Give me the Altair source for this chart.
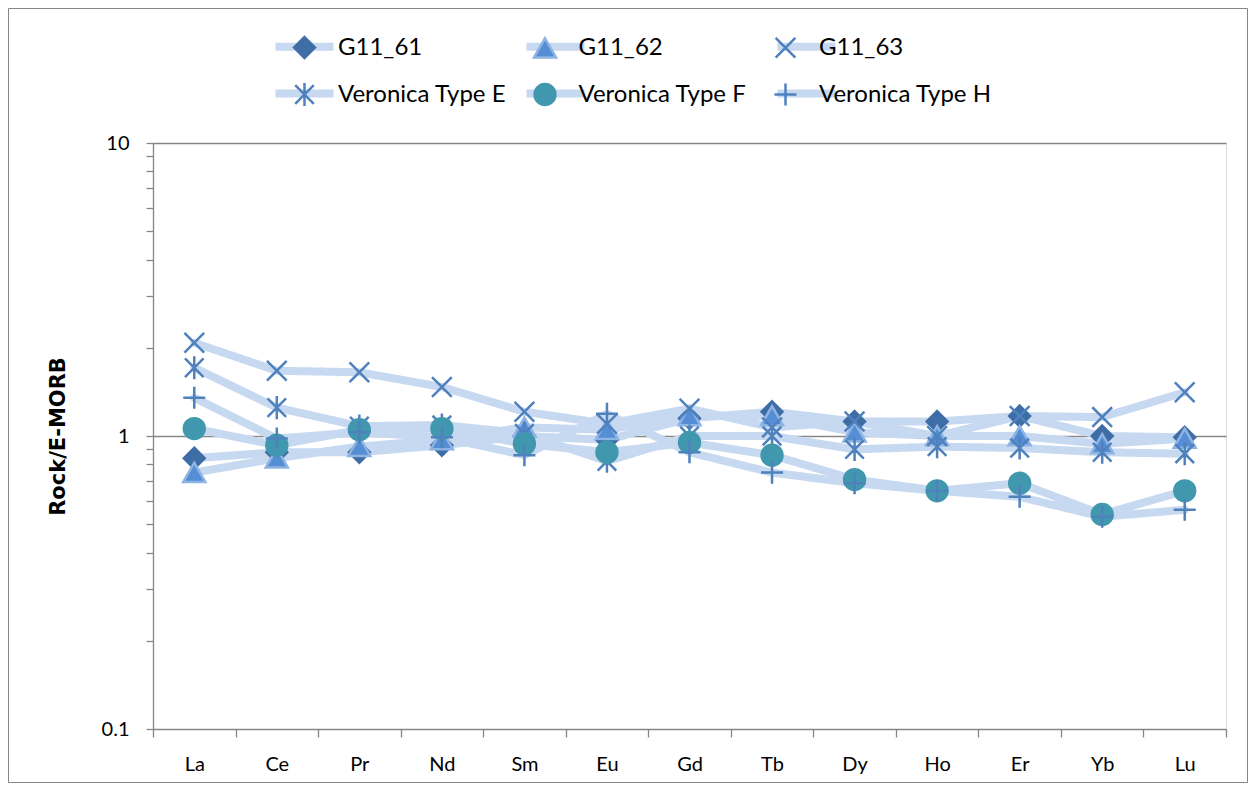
import altair as alt
import pandas as pd

elements = ["La", "Ce", "Pr", "Nd", "Sm", "Eu", "Gd", "Tb", "Dy", "Ho", "Er", "Yb", "Lu"]
series = ["G11_61", "G11_62", "G11_63", "Veronica Type E", "Veronica Type F", "Veronica Type H"]

g11_61 = [0.84, 0.88, 0.88, 0.93, 1.00, 0.97, 1.15, 1.21, 1.12, 1.12, 1.17, 1.00, 0.99]
g11_62 = [0.75, 0.84, 0.92, 0.97, 1.07, 1.05, 1.17, 1.17, 1.03, 1.00, 1.00, 0.94, 0.98]
g11_63 = [2.08, 1.67, 1.65, 1.47, 1.21, 1.10, 1.24, 1.07, 1.12, 1.00, 1.17, 1.16, 1.41]
ver_e = [1.71, 1.25, 1.08, 1.09, 1.02, 0.82, 1.00, 1.00, 0.90, 0.92, 0.91, 0.88, 0.87]
ver_f = [1.06, 0.93, 1.05, 1.06, 0.94, 0.88, 0.95, 0.86, 0.71, 0.65, 0.69, 0.54, 0.65]
ver_h = [1.35, 0.98, 1.03, 0.99, 0.86, 1.19, 0.88, 0.75, 0.69, 0.65, 0.62, 0.53, 0.56]

y_tick_values = [0.1, 0.2, 0.3, 0.4, 0.5, 0.6, 0.7, 0.8, 0.9,
                 1, 2, 3, 4, 5, 6, 7, 8, 9, 10]

# line-legend keys: same names with a trailing space so the two legends stay separate
series_l = [s + " " for s in series]

all_vals = [g11_61, g11_62, g11_63, ver_e, ver_f, ver_h]
rows = []
for s, sl, vals in zip(series, series_l, all_vals):
    for e, v in zip(elements, vals):
        rows.append({"element": e, "series": s, "series_l": sl, "value": v})
df = pd.DataFrame(rows)

FONT = "Lato"
W, H = 1073, 586
SYM_M = 3364      # marker box 58 px  (sqrt + stroke 2.5 -> 61)
SYM_L = 2756.25   # line box 52.5 px  (sqrt + stroke 8   -> 61)

EXT_M = "M-1.19,0M1.19,0"  # invisible extents: same left bound as the legend line
diamond = EXT_M + "M0,-0.36L0.36,0L0,0.36L-0.36,0Z"
triangle = EXT_M + "M0,-0.34L0.38,0.32L-0.38,0.32Z"
xshape = EXT_M + "M-0.34,-0.34L0.34,0.34M-0.34,0.34L0.34,-0.34"
aster = EXT_M + "M-0.32,-0.32L0.32,0.32M-0.32,0.32L0.32,-0.32M0,-0.4L0,0.4"
circle = EXT_M + "M0.36,0A0.36,0.36 0 1,1 -0.36,0A0.36,0.36 0 1,1 0.36,0Z"
plus = EXT_M + "M-0.38,0L0.38,0M0,-0.38L0,0.38"
line_sym = "M-1.105,0L1.105,0"
shapes = [diamond, triangle, xshape, aster, circle, plus]
fills = ["#3F6DA6", "#558ED5", "transparent", "transparent", "#4198AE", "transparent"]
strokes = ["#3F6DA6", "#8EB4E3", "#4F81BD", "#4F81BD", "#4198AE", "#4F81BD"]

x_enc = alt.X(
    "element:N",
    sort=elements,
    scale=alt.Scale(type="band", domain=elements, paddingInner=0, paddingOuter=0),
    axis=alt.Axis(
        title=None, labelAngle=0, tickBand="extent", grid=False,
        domainColor="#868686", domainWidth=1.3, tickColor="#868686", tickWidth=1.3,
        tickSize=8, labelPadding=17, labelFont=FONT, labelFontSize=20, labelColor="#000000",
    ),
)
y_enc = alt.Y(
    "value:Q",
    scale=alt.Scale(type="log", domain=[0.1, 10], nice=False),
    axis=alt.Axis(
        title="Rock/E-MORB", titleFont="DejaVu Sans", titleFontSize=21, titleFontWeight="bold",
        titleColor="#000000", titlePadding=33,
        values=y_tick_values,
        labelExpr="datum.value == 10 ? '10' : datum.value == 1 ? '1' : datum.value == 0.1 ? '0.1' : ''",
        labelFont=FONT, labelFontSize=20, labelColor="#000000", labelPadding=17,
        tickSize=7, tickColor="#868686", tickWidth=1.3,
        domainColor="#868686", domainWidth=1.3,
        grid=True,
        gridColor={"condition": {"test": "datum.value == 1 || datum.value == 10", "value": "#868686"},
                   "value": "transparent"},
        gridWidth=1.6,
    ),
)

legend_common = dict(
    orient="none", direction="horizontal", legendX=121, legendY=-127, columns=3, title=None,
    labelFont=FONT, labelFontSize=24, labelOffset=3, labelLimit=400,
    rowPadding=-9, padding=0, gridAlign="all",
)

# line segments of the legend (no text of their own)
lines = alt.Chart(df).mark_line(color="#C6D9F1", strokeWidth=8, strokeJoin="round", strokeCap="round").encode(
    x=x_enc,
    y=y_enc,
    detail="series:N",
    strokeDash=alt.StrokeDash(
        "series_l:N",
        scale=alt.Scale(domain=series_l, range=[[1, 0]] * 6),
        legend=alt.Legend(symbolType=line_sym, symbolSize=SYM_L, symbolStrokeColor="#C6D9F1",
                          symbolStrokeWidth=8, labelExpr="''", columnPadding=160,
                          **legend_common),
    ),
)

points = alt.Chart(df).mark_point(filled=False, opacity=1, size=SYM_M, strokeWidth=2.5).encode(
    x=x_enc,
    y=y_enc,
    shape=alt.Shape("series:N", scale=alt.Scale(domain=series, range=shapes),
                    legend=alt.Legend(symbolSize=SYM_M, symbolStrokeWidth=2.5, columnPadding=-6.5,
                                      labelColor="#000000", **legend_common)),
    fill=alt.Fill("series:N", scale=alt.Scale(domain=series, range=fills), legend=None),
    stroke=alt.Stroke("series:N", scale=alt.Scale(domain=series, range=strokes), legend=None),
)

frame = alt.Chart(pd.DataFrame({"a": [0]})).mark_rect(fill="transparent", stroke="#868686", strokeWidth=1).encode(
    x=alt.value(-144.5), x2=alt.value(W + 21.5), y=alt.value(-134.5), y2=alt.value(H + 53.5)
)

chart = alt.layer(frame, lines, points).properties(
    width=W, height=H,
    autosize=alt.AutoSizeParams(type="none"),
    padding={"left": 145, "top": 135, "right": 22, "bottom": 54},
).configure_view(stroke=None).configure(background="white")

chart.save("out.html", embed_options={"renderer": "svg", "actions": False})
